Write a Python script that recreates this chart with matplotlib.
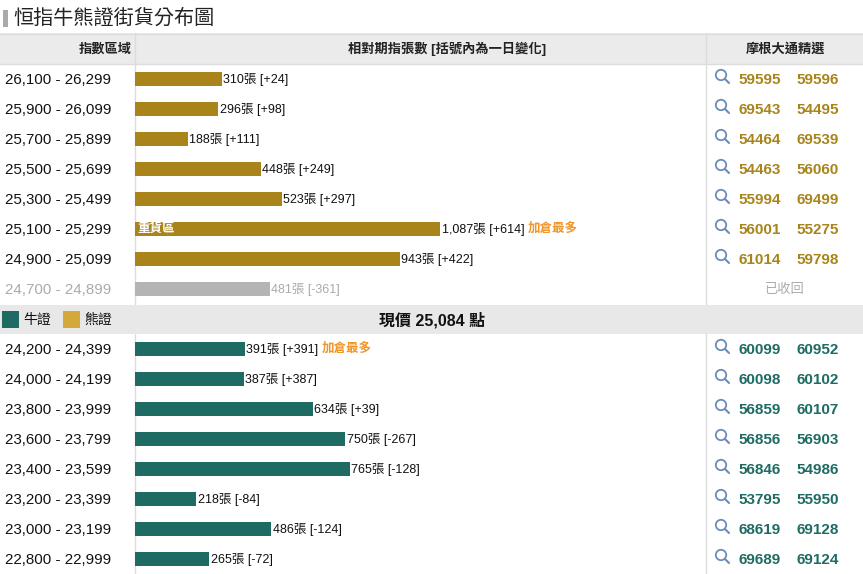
import matplotlib
matplotlib.use("Agg")
import matplotlib.pyplot as plt
from matplotlib.patches import Rectangle, Circle

# Arial-like digits, CJK glyphs fall back to Noto
plt.rcParams['font.family'] = ['Liberation Sans', 'Noto Sans CJK TC', 'DejaVu Sans']

# bear side (above current price)
bear_ranges = ["26,100 - 26,299", "25,900 - 26,099", "25,700 - 25,899", "25,500 - 25,699",
               "25,300 - 25,499", "25,100 - 25,299", "24,900 - 25,099", "24,700 - 24,899"]
bear_qty = [310, 296, 188, 448, 523, 1087, 943, 481]
bear_chg = [24, 98, 111, 249, 297, 614, 422, -361]
bear_codes = [("59595", "59596"), ("69543", "54495"), ("54464", "69539"), ("54463", "56060"),
              ("55994", "69499"), ("56001", "55275"), ("61014", "59798"), None]

# bull side (below current price)
bull_ranges = ["24,200 - 24,399", "24,000 - 24,199", "23,800 - 23,999", "23,600 - 23,799",
               "23,400 - 23,599", "23,200 - 23,399", "23,000 - 23,199", "22,800 - 22,999"]
bull_qty = [391, 387, 634, 750, 765, 218, 486, 265]
bull_chg = [391, 387, 39, -267, -128, -84, -124, -72]
bull_codes = [("60099", "60952"), ("60098", "60102"), ("56859", "60107"), ("56856", "56903"),
              ("56846", "54986"), ("53795", "55950"), ("68619", "69128"), ("69689", "69124")]

price = "25,084"
heavy_row = 5        # 重貨區 within bear rows
bear_most = 5        # 加倉最多
bull_most = 0
recalled = 7         # 已收回 row, greyed out

BEAR = "#A8841A"
BULL = "#1E6B63"
GREY = "#B4B4B4"
GREYTXT = "#ABABAB"
ORANGE = "#F0962A"
LINE = "#DCDCDC"
ICON = "#6A8CBC"

W, H = 863, 574
ROW = 30
TOP = 64  # bottom of header

fig = plt.figure(figsize=(W / 100, H / 100), dpi=100)

# table frame in pixel coordinates
bg = fig.add_axes([0, 0, 1, 1])
bg.set_xlim(0, W)
bg.set_ylim(H, 0)
bg.axis('off')

# title
bg.add_patch(Rectangle((3, 10), 5, 17, color="#AAAAAA", lw=0))
bg.text(13, 18, "恒指牛熊證街貨分布圖", fontsize=14.5, va='center', ha='left', color="#222222")

# header
bg.add_patch(Rectangle((0, 33), W, TOP - 33, facecolor="#EBEBEB", edgecolor='none'))
bg.plot([0, W], [33.5, 33.5], color=LINE, lw=1)
bg.plot([0, W], [TOP, TOP], color=LINE, lw=1)
hdr = dict(fontsize=9.5, fontweight='bold', va='center', ha='center', color="#222222")
bg.text(105, 49, "指數區域", **hdr)
bg.text(447, 49, "相對期指張數 [括號內為一日變化]", **hdr)
bg.text(786, 49, "摩根大通精選", **hdr)

# column dividers
for xd in (134.5, 706):
    bg.plot([xd, xd], [33, H], color=LINE, lw=1)

n_bear = len(bear_ranges)
all_rows = []
for i in range(n_bear):
    all_rows.append(("bear", i, i))
for i in range(len(bull_ranges)):
    all_rows.append(("bull", i, n_bear + 1 + i))


def draw_icon(cx, cy, col):
    bg.add_patch(Circle((cx, cy), 5.2, fill=False, edgecolor=col, lw=1.3))
    bg.plot([cx + 3.8, cx + 8.0], [cy + 3.8, cy + 8.0], color=col, lw=1.5, solid_capstyle='round')


for side, i, r in all_rows:
    yc = TOP + ROW / 2 + ROW * r
    if side == "bear":
        lab, codes, col = bear_ranges[i], bear_codes[i], BEAR
        grey = (i == recalled)
    else:
        lab, codes, col = bull_ranges[i], bull_codes[i], BULL
        grey = False
    bg.text(5, yc + 1, lab, fontsize=10.9, va='center', ha='left',
            color=GREYTXT if grey else "#111111")
    if codes is None:
        bg.text(785, yc + 1, "已收回", fontsize=9.5, va='center', ha='center', color=GREYTXT)
    else:
        draw_icon(721, yc - 4, ICON)
        bg.text(760, yc + 1, codes[0], fontsize=11, fontweight='bold', va='center', ha='center', color=col)
        bg.text(818, yc + 1, codes[1], fontsize=11, fontweight='bold', va='center', ha='center', color=col)

# legend / current price band
sep_y = TOP + ROW * n_bear + 1
bg.add_patch(Rectangle((0, sep_y), W, ROW - 1, facecolor="#E8E8E8", edgecolor='none', zorder=3))
bg.add_patch(Rectangle((2, sep_y + 6), 17, 17, facecolor=BULL, edgecolor='none', zorder=4))
bg.text(23, sep_y + 15, "牛證", fontsize=10, va='center', ha='left', color="#111111", zorder=4)
bg.add_patch(Rectangle((63, sep_y + 6), 17, 17, facecolor="#D4A83A", edgecolor='none', zorder=4))
bg.text(84, sep_y + 15, "熊證", fontsize=10, va='center', ha='left', color="#111111", zorder=4)
bg.text(432, sep_y + 15, f"現價 {price} 點", fontsize=11.5, fontweight='bold',
        va='center', ha='center', color="#111111", zorder=4)

# bars, in their own axes: one unit = one row, x in 張
px_per_unit = 305 / 1087
ax = fig.add_axes([135 / W, 0, (W - 135) / W, (H - TOP) / H])
ax.set_xlim(0, (W - 135) / px_per_unit)
ax.set_ylim(len(all_rows) + 0.5, -0.5)
ax.axis('off')
ax.patch.set_alpha(0)

bear_pos = list(range(n_bear))
bull_pos = [n_bear + 1 + i for i in range(len(bull_ranges))]
bear_cols = [GREY if i == recalled else BEAR for i in range(n_bear)]
ax.barh(bear_pos, bear_qty, height=14 / ROW, left=0, color=bear_cols)
ax.barh(bull_pos, bull_qty, height=14 / ROW, left=0, color=BULL)


def fmt(q, c):
    return f"{q:,}張 [{c:+d}]"


gap = 1.5 / px_per_unit
for i, (p, q, c) in enumerate(zip(bear_pos, bear_qty, bear_chg)):
    tcol = GREYTXT if i == recalled else "#111111"
    t = ax.text(q + gap, p, fmt(q, c), fontsize=9, va='center', ha='left', color=tcol)
    if i == bear_most:
        ax.annotate("加倉最多", xy=(1, 0.5), xycoords=t, xytext=(2.5, 0), textcoords='offset points',
                    fontsize=9, fontweight='bold', color=ORANGE, va='center', ha='left')
    if i == heavy_row:
        ax.text(2 / px_per_unit, p, "重貨區", fontsize=9, fontweight='bold', color='white',
                va='center', ha='left')

for i, (p, q, c) in enumerate(zip(bull_pos, bull_qty, bull_chg)):
    t = ax.text(q + gap, p, fmt(q, c), fontsize=9, va='center', ha='left', color="#111111")
    if i == bull_most:
        ax.annotate("加倉最多", xy=(1, 0.5), xycoords=t, xytext=(2.5, 0), textcoords='offset points',
                    fontsize=9, fontweight='bold', color=ORANGE, va='center', ha='left')

fig.savefig("out.png", dpi=100)
